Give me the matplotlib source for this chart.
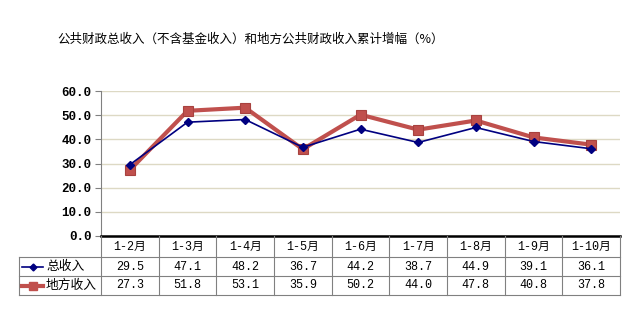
import matplotlib
matplotlib.use("Agg")
import matplotlib.pyplot as plt
from matplotlib.lines import Line2D
from matplotlib.transforms import blended_transform_factory

plt.rcParams['font.family'] = ['Noto Sans CJK SC', 'DejaVu Sans']

title = "公共财政总收入（不含基金收入）和地方公共财政收入累计增幅（%）"
categories = ["1-2月", "1-3月", "1-4月", "1-5月", "1-6月", "1-7月", "1-8月", "1-9月", "1-10月"]
total_name = "总收入"
local_name = "地方收入"
total_income = [29.5, 47.1, 48.2, 36.7, 44.2, 38.7, 44.9, 39.1, 36.1]
local_income = [27.3, 51.8, 53.1, 35.9, 50.2, 44.0, 47.8, 40.8, 37.8]
y_ticks = [0, 10, 20, 30, 40, 50, 60]

W, H = 640, 325
fig = plt.figure(figsize=(W / 100, H / 100), dpi=100)

# plot area in pixels
left, right, top, bottom = 101, 620, 91, 236
ax = fig.add_axes([left / W, 1 - bottom / H, (right - left) / W, (bottom - top) / H])

n = len(categories)
xs = list(range(n))
ax.set_xlim(-0.5, n - 0.5)
ax.set_ylim(0, 60)

blue = "#000080"
red = "#C0504D"
mono = ['Liberation Mono', 'Noto Sans CJK SC']

ax.plot(xs, total_income, color=blue, lw=1.2, marker="D", ms=4.5,
        mfc=blue, mec=blue, zorder=3)
ax.plot(xs, local_income, color=red, lw=3, marker="s", ms=7.5,
        mfc=red, mec="#A8423F", mew=0.8, zorder=2)

ax.set_yticks(y_ticks)
ax.set_yticklabels([f"{v:.1f}" for v in y_ticks], fontsize=9, fontweight="bold",
                   family=['Liberation Mono'])
ax.tick_params(axis="y", length=4, width=0.8, color="#808080", pad=3)
ax.tick_params(axis="x", length=0, labelbottom=False)
ax.grid(axis="y", color="#DDD9C4", lw=1)
ax.set_axisbelow(True)
for s in ["top", "right"]:
    ax.spines[s].set_visible(False)
ax.spines["left"].set_color("#808080")
ax.spines["left"].set_linewidth(0.8)
ax.spines["bottom"].set_color("black")
ax.spines["bottom"].set_linewidth(1.8)

fig.text(57 / W, 1 - 39 / H, title, fontsize=9, va="center", ha="left")

# data table below the axis
grid_c = "#808080"
row_edges = [236, 257, 276, 295]
tab_left = 19
def fy(p):
    return 1 - p / H
def fx(p):
    return p / W

trans = blended_transform_factory(ax.transData, fig.transFigure)
col_edges = [i - 0.5 for i in range(n + 1)]

# vertical separators between categories
for c in col_edges:
    fig.add_artist(Line2D([c, c], [fy(row_edges[0]), fy(row_edges[-1])],
                          transform=trans, color=grid_c, lw=0.8))
# label column border
fig.add_artist(Line2D([fx(tab_left), fx(tab_left)], [fy(row_edges[1]), fy(row_edges[-1])],
                      transform=fig.transFigure, color=grid_c, lw=0.8))
# horizontal row lines
for r in row_edges[1:]:
    fig.add_artist(Line2D([fx(tab_left), fx(right)], [fy(r), fy(r)],
                          transform=fig.transFigure, color=grid_c, lw=0.8))

def mid(i):
    return fy((row_edges[i] + row_edges[i + 1]) / 2)

for i, cat in enumerate(categories):
    fig.text(i, mid(0), cat, transform=trans, ha="center", va="center",
             fontsize=8.5, family=mono)
    fig.text(i, mid(1), f"{total_income[i]:.1f}", transform=trans, ha="center",
             va="center", fontsize=8.5, family=mono)
    fig.text(i, mid(2), f"{local_income[i]:.1f}", transform=trans, ha="center",
             va="center", fontsize=8.5, family=mono)

# legend keys inside the label column
for r, (name, col, mk, lw, ms) in enumerate([(total_name, blue, "D", 1.2, 3.5),
                                             (local_name, red, "s", 3, 6)]):
    yk = mid(r + 1)
    fig.add_artist(Line2D([fx(22), fx(43)], [yk, yk], transform=fig.transFigure,
                          color=col, lw=lw))
    fig.add_artist(Line2D([fx(32.5)], [yk], transform=fig.transFigure, color=col,
                          marker=mk, ms=ms, mfc=col, mec=col, lw=0))
    fig.text(fx(46), yk, name, ha="left", va="center", fontsize=9.2)

fig.savefig("out.png", dpi=100)
